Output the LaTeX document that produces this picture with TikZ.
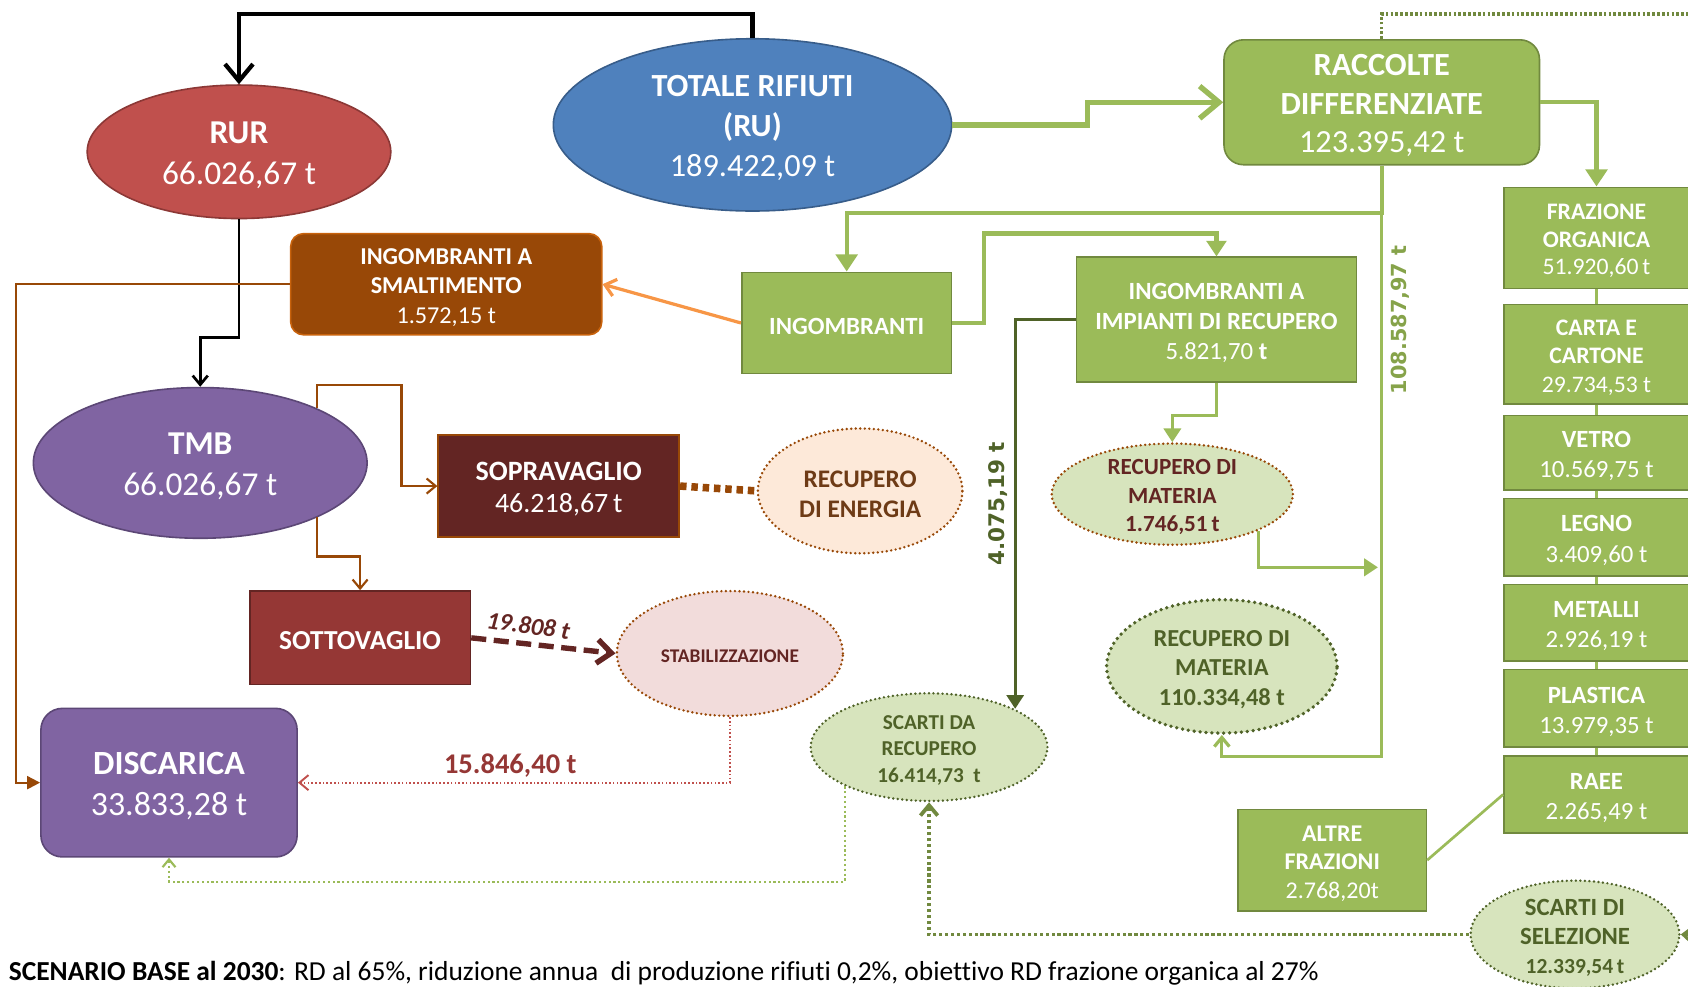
\documentclass[tikz,border=0pt]{standalone}
\usepackage{fontspec}
\setmainfont{Carlito}[Ligatures=NoCommon]
\newfontfamily\vfont{DejaVu Sans}
\usetikzlibrary{arrows.meta,shapes.geometric}
\definecolor{gfill}{HTML}{9BBB59}
\definecolor{gdraw}{HTML}{71893F}
\definecolor{ltg}{HTML}{D7E4BD}
\definecolor{dkg}{HTML}{4F6228}
\definecolor{lblg}{HTML}{86A34A}
\definecolor{rurf}{HTML}{C0504D}
\definecolor{rurd}{HTML}{8C3836}
\definecolor{totf}{HTML}{4F81BD}
\definecolor{totd}{HTML}{385D8A}
\definecolor{purf}{HTML}{8064A2}
\definecolor{purd}{HTML}{5C4776}
\definecolor{brn}{HTML}{984807}
\definecolor{smald}{HTML}{C8620C}
\definecolor{sopf}{HTML}{632523}
\definecolor{sotf}{HTML}{953735}
\definecolor{peach}{HTML}{FDE9D9}
\definecolor{pinkf}{HTML}{F2DCDB}
\definecolor{orng}{HTML}{F79646}
\definecolor{rentxt}{HTML}{6E3B16}
\newcommand\setfs[2]{\fontsize{#1}{#2}\selectfont}
\begin{document}
\begin{tikzpicture}[x=1pt,y=-1pt,
  box/.style={rectangle, inner sep=0pt, line width=1.5pt},
  gbox/.style={box, fill=gfill, draw=gdraw},
  ell/.style={ellipse, inner sep=0pt, line width=1.5pt},
  txt/.style={inner sep=0pt, align=center, yshift=-3pt},
  wtxt/.style={txt, text=white},
  dotb/.style={line width=2.5pt, dash pattern=on 0pt off 4.2pt, line cap=round},
  barb/.style={-{Straight Barb[length=#1*0.6pt, width=#1*1pt]}},
  tri/.style={-{Triangle[length=#1*0.8pt, width=#1*1pt]}},
]
\useasboundingbox (0,0) rectangle (1568,916);

% ---------- shapes ----------
\node[ell, fill=rurf, draw=rurd, minimum width=282pt, minimum height=124pt] (rur) at (222,141) {};
\node[ell, fill=totf, draw=totd, minimum width=370pt, minimum height=160pt] (tot) at (699,116) {};
\node[gbox, rounded corners=18pt, minimum width=293pt, minimum height=116pt] (racc) at (1283.5,95) {};
\node[gbox, minimum width=172pt, minimum height=94pt] (fraz) at (1483,221) {};
\node[gbox, minimum width=172pt, minimum height=92pt] (carta) at (1483,329) {};
\node[gbox, minimum width=172pt, minimum height=69pt] (vetro) at (1483,420.5) {};
\node[gbox, minimum width=172pt, minimum height=72pt] (legno) at (1483,499) {};
\node[gbox, minimum width=172pt, minimum height=71pt] (metalli) at (1483,578.5) {};
\node[gbox, minimum width=172pt, minimum height=72pt] (plastica) at (1483,658) {};
\node[gbox, minimum width=172pt, minimum height=72pt] (raee) at (1483,738) {};
\node[gbox, minimum width=195pt, minimum height=94pt] (ingo) at (786.5,300) {};
\node[gbox, minimum width=260pt, minimum height=116pt] (imp) at (1130,297) {};
\node[box, fill=brn, draw=smald, rounded corners=12pt, minimum width=289pt, minimum height=94pt] (smal) at (414.5,264) {};
\node[ell, fill=purf, draw=purd, minimum width=310pt, minimum height=140pt] (tmb) at (186,430) {};
\node[box, fill=sopf, draw=brn, minimum width=224pt, minimum height=95pt] (sop) at (519,451.5) {};
\node[box, fill=sotf, draw=sopf, minimum width=205pt, minimum height=87pt] (sot) at (334.5,592.5) {};
\node[ell, fill=peach, draw=brn, dotb, minimum width=190pt, minimum height=116pt] (ren) at (799,456) {};
\node[ell, fill=pinkf, draw=brn, dotb, minimum width=210pt, minimum height=116pt] (stab) at (678,607) {};
\node[box, fill=purf, draw=purd, rounded corners=20pt, minimum width=238pt, minimum height=138pt] (disc) at (157,727) {};
\node[ell, fill=ltg, draw=brn, dotb, minimum width=224pt, minimum height=94pt] (rm1) at (1089,459) {};
\node[ell, fill=ltg, draw=dkg, line width=3.5pt, dash pattern=on 0pt off 5.5pt, line cap=round, minimum width=214pt, minimum height=124pt] (rm2) at (1135,619) {};
\node[ell, fill=ltg, draw=dkg, dotb, minimum width=220pt, minimum height=100pt] (sdr) at (863,694) {};
\node[ell, fill=ltg, draw=dkg, dotb, minimum width=194pt, minimum height=100pt] (ssel) at (1463,868) {};
\node[gbox, minimum width=175pt, minimum height=94pt] (altre) at (1237.5,799) {};

% ---------- texts ----------
\node[wtxt, font=\setfs{31}{38}] (rurt) at (rur) {\textbf{RUR}\\66.026,67 t};
\node[wtxt, font=\setfs{30}{37}] (tott) at (tot) {\textbf{TOTALE RIFIUTI}\\\textbf{(RU)}\\189.422,09 t};
\node[wtxt, font=\setfs{30}{36}] (racct) at (racc) {\textbf{RACCOLTE}\\\textbf{DIFFERENZIATE}\\123.395,42 t};
\node[wtxt, font=\setfs{22}{25.5}] (frazt) at (fraz) {\textbf{FRAZIONE}\\\textbf{ORGANICA}\\51.920,60\,t};
\node[wtxt, font=\setfs{22}{26.5}] (cartat) at (carta) {\textbf{CARTA E}\\\textbf{CARTONE}\\29.734,53 t};
\node[wtxt, font=\setfs{23}{28}] (vetrot) at (vetro) {\textbf{VETRO}\\10.569,75 t};
\node[wtxt, font=\setfs{23}{28}] (legnot) at (legno) {\textbf{LEGNO}\\3.409,60 t};
\node[wtxt, font=\setfs{23}{28}] (metallit) at (metalli) {\textbf{METALLI}\\2.926,19 t};
\node[wtxt, font=\setfs{23}{28}] (plasticat) at (plastica) {\textbf{PLASTICA}\\13.979,35 t};
\node[wtxt, font=\setfs{23}{28}] (raeet) at (raee) {\textbf{RAEE}\\2.265,49 t};
\node[wtxt, font=\setfs{23}{26}] (ingot) at (ingo) {\textbf{INGOMBRANTI}};
\node[wtxt, font=\setfs{23}{28}] (impt) at (imp) {\textbf{INGOMBRANTI A}\\\textbf{IMPIANTI DI RECUPERO}\\5.821,70 \textbf{t}};
\node[wtxt, font=\setfs{22.5}{27.5}] (smalt) at (smal) {\textbf{INGOMBRANTI A}\\\textbf{SMALTIMENTO}\\1.572,15 t};
\node[wtxt, font=\setfs{31}{38}] (tmbt) at (tmb) {\textbf{TMB}\\66.026,67 t};
\node[wtxt, font=\setfs{26}{30}] (sopt) at (sop) {\textbf{SOPRAVAGLIO}\\46.218,67\,t};
\node[wtxt, font=\setfs{25.5}{28}] (sott) at (sot) {\textbf{SOTTOVAGLIO}};
\node[txt, text=rentxt, font=\setfs{23.5}{28}] (rent) at (ren) {\textbf{RECUPERO}\\\textbf{DI ENERGIA}};
\node[txt, text=sopf, font=\setfs{18}{20}] (stabt) at (stab) {\textbf{STABILIZZAZIONE}};
\node[wtxt, font=\setfs{31.5}{38}] (disct) at (disc) {\textbf{DISCARICA}\\33.833,28 t};
\node[txt, text=sopf, font=\setfs{21.5}{26.5}] (rm1t) at (rm1) {\textbf{RECUPERO DI}\\\textbf{MATERIA}\\\textbf{1.746,51\,t}};
\node[txt, text=dkg, font=\setfs{22.7}{27.5}] (rm2t) at (rm2) {\textbf{RECUPERO DI}\\\textbf{MATERIA}\\\textbf{110.334,48 t}};
\node[txt, text=dkg, font=\setfs{19.7}{24.5}] (sdrt) at (sdr) {\textbf{SCARTI DA}\\\textbf{RECUPERO}\\\textbf{16.414,73 \ t}};
\node[txt, text=dkg, font=\setfs{23}{27}] (sselt) at (ssel) {\textbf{SCARTI DI}\\\textbf{SELEZIONE}\\{\setfs{20}{27}\textbf{12.339,54\,t}}};
\node[wtxt, font=\setfs{22.3}{26.5}] (altret) at (altre) {\textbf{ALTRE}\\\textbf{FRAZIONI}\\2.768,20t};

\node[anchor=base west, inner sep=0pt, font=\setfs{25.5}{28}] (note) at (8,911) {\textbf{SCENARIO BASE al 2030}: RD al 65\%, riduzione annua \ di produzione rifiuti 0,2\%, obiettivo RD frazione organica al 27\%};

% ---------- labels ----------
\node[rotate=90, inner sep=0pt, font=\vfont\bfseries\setfs{19.3}{19}, text=lblg] (l108) at (1301,297) {108.587,97 t};
\node[rotate=90, inner sep=0pt, font=\vfont\bfseries\setfs{20}{20}, text=dkg] (l4075) at (927,468) {4.075,19 t};
\node[rotate=-8, inner sep=0pt, font=\setfs{23}{23}, text=sopf] (l19808) at (491,581) {\textbf{\itshape 19.808 t}};
\node[inner sep=0pt, font=\setfs{26.5}{26}, text=sotf] (l15846) at (474,711) {\textbf{15.846,40 t}};

% ---------- coordinates ----------
\coordinate (j1) at (1283.5,198);
\coordinate (j2) at (1283.5,703);
\coordinate (k1) at (914,217);
\coordinate (k2) at (373,358);
\coordinate (k3) at (334.5,517);
\coordinate (k4) at (157,819);
\coordinate (k5) at (15,264);
\coordinate (m2) at (1280,527);
\coordinate (t1) at (1283.5,13);
\coordinate (t2) at (1600,13);
\coordinate (t3) at (1600,870);

% ---------- connectors ----------
\draw[black, line width=4pt, barb=26] (tot.north) -- ++(0,-22) -| (rur.north);
\draw[black, line width=2.5pt, barb=14] (rur.south) -- ++(0,110) -| (tmb.north);

\draw[gfill, line width=5pt, barb=30] (tot.east) -- (1010,116) |- (racc.west);
\draw[gfill, line width=4pt, tri=20] (racc.east) -| (fraz.north);
\draw[gfill, line width=4pt, tri=20] (racc.south) -- (j1) -| (ingo.north);
\draw[gfill, line width=3pt, barb=14] (j1) -- (j2) -| (rm2.south);
\draw[gfill, line width=4pt, tri=18] (ingo.east) -| (k1) -| (imp.north);
\draw[gfill, line width=3pt, tri=16] (imp.south) -- ++(0,30) -| (rm1.north);
\draw[gfill, line width=3pt, tri=16] (rm1.-23) |- (m2);
\draw[orng, line width=3pt, barb=16] (ingo.west) -- (smal.east);
\draw[dkg, line width=2.5pt, tri=16] (imp.west) -| (sdr.24);

\foreach \a/\b in {fraz/carta, carta/vetro, vetro/legno, legno/metalli, metalli/plastica, plastica/raee}
  \draw[gfill, line width=2pt] (\a.south) -- (\b.north);
\draw[gfill, line width=2.5pt] (altre.east) -- (raee.west);

\draw[brn, line width=2pt, -{Triangle[length=12pt,width=12pt]}] (smal.west) -- (k5) |- (disc.west);
\draw[brn, line width=2pt, barb=14] (tmb.25) |- (k2) |- (sop.west);
\draw[brn, line width=2pt, barb=14] (tmb.-25) |- (k3) -- (sot.north);
\draw[brn, line width=7pt, dash pattern=on 6pt off 4.5pt] (sop.east) -- (ren.west);
\draw[sopf, line width=5pt, dash pattern=on 14pt off 7pt, barb=22] (sot.east) -- (stab.west);
\draw[rurf, line width=1.8pt, dash pattern=on 1.5pt off 2pt, barb=14] (stab.south) |- (disc.east);
\draw[gfill, line width=2pt, dash pattern=on 2pt off 2.5pt, barb=12] (sdr.205) |- (k4) -- (disc.south);
\draw[gdraw, line width=3.5pt, dash pattern=on 3pt off 2.5pt, barb=16] (ssel.west) -| (sdr.south);
\draw[gdraw, line width=3pt, dash pattern=on 2.5pt off 2pt] (racc.north) -- (t1) -- (t2);
\draw[gdraw, line width=3pt, dash pattern=on 2.5pt off 2pt, barb=14] (t3) -- (ssel.east);
\end{tikzpicture}
\end{document}
